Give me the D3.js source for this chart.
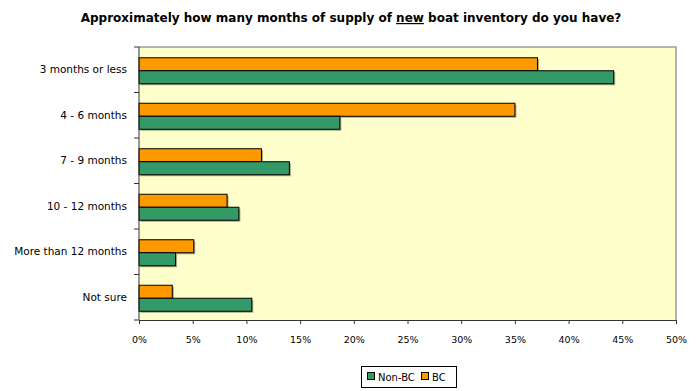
<!DOCTYPE html>
<html>
<head>
<meta charset="utf-8">
<script src="https://cdn.jsdelivr.net/npm/d3@7"></script>
<style>
  html, body { margin: 0; padding: 0; background: #ffffff; }
  svg { display: block; }
  text { font-family: "DejaVu Sans", Verdana, sans-serif; fill: #000; }
</style>
</head>
<body>
<svg id="chart" width="698" height="391"></svg>
<script>
// Survey answers and shares (%) per group
const categories = ["3 months or less", "4 - 6 months", "7 - 9 months", "10 - 12 months", "More than 12 months", "Not sure"];
const seriesNames = ["BC", "Non-BC"];
const bcValues = [37.1, 35.0, 11.4, 8.2, 5.1, 3.1];
const nonBcValues = [44.2, 18.7, 14.0, 9.3, 3.4, 10.5];
const xTicks = [0, 5, 10, 15, 20, 25, 30, 35, 40, 45, 50];
const legendOrder = ["Non-BC", "BC"];

const colors = { "BC": "#FF9900", "Non-BC": "#339966" };
const valuesBySeries = { "BC": bcValues, "Non-BC": nonBcValues };

const svg = d3.select("#chart");
const plot = { left: 139, right: 676, top: 47, bottom: 320 };

const x = d3.scaleLinear().domain([0, 50]).range([plot.left, plot.right]);
const y = d3.scaleBand().domain(categories).range([plot.top, plot.bottom]).paddingInner(0).paddingOuter(0);
const inner = d3.scaleBand().domain(seriesNames).range([0, y.bandwidth()]).paddingOuter(0.75).paddingInner(0);

// Title with the underlined word
const title = svg.append("text")
  .attr("x", 351).attr("y", 22)
  .attr("text-anchor", "middle")
  .style("font-size", "12px").style("font-weight", "bold");
title.append("tspan").text("Approximately how many months of supply of ");
title.append("tspan").attr("text-decoration", "underline").text("new");
title.append("tspan").text(" boat inventory do you have?");

// Plot background
svg.append("rect")
  .attr("x", plot.left).attr("y", plot.top)
  .attr("width", plot.right - plot.left).attr("height", plot.bottom - plot.top)
  .attr("fill", "#FFFFCC").attr("stroke", "none");
svg.append("path")
  .attr("d", `M${plot.left},${plot.top}H${plot.right}V${plot.bottom}`)
  .attr("fill", "none").attr("stroke", "#999").attr("stroke-width", 1.5);

// Bars
const rows = [];
categories.forEach((c, i) => {
  seriesNames.forEach(s => rows.push({ cat: c, series: s, value: valuesBySeries[s][i] }));
});

const barG = svg.append("g");
barG.selectAll("rect.shadow").data(rows).join("rect")
  .attr("class", "shadow")
  .attr("x", x(0) + 1.5)
  .attr("y", d => y(d.cat) + inner(d.series) + 1 + 1.5)
  .attr("width", d => x(d.value) - x(0))
  .attr("height", inner.bandwidth())
  .attr("fill", "#000").attr("opacity", 0.35);
barG.selectAll("rect.bar").data(rows).join("rect")
  .attr("class", "bar")
  .attr("x", x(0))
  .attr("y", d => y(d.cat) + inner(d.series) + 1)
  .attr("width", d => x(d.value) - x(0))
  .attr("height", inner.bandwidth())
  .attr("fill", d => colors[d.series])
  .attr("stroke", "#000").attr("stroke-width", 1);

// X axis
const xAxis = svg.append("g")
  .attr("transform", `translate(0,${plot.bottom})`)
  .call(d3.axisBottom(x).tickValues(xTicks).tickFormat(d => d + "%").tickSize(4).tickSizeOuter(0).tickPadding(12));
xAxis.select(".domain").attr("stroke", "#333");
xAxis.selectAll(".tick line").attr("stroke", "#333");
xAxis.selectAll("text").style("font-size", "9.5px").style("font-family", "'DejaVu Sans', sans-serif");

// Y axis: line plus ticks at band boundaries
svg.append("line")
  .attr("x1", plot.left).attr("x2", plot.left)
  .attr("y1", plot.top).attr("y2", plot.bottom)
  .attr("stroke", "#333");
const boundaries = categories.map(c => y(c)).concat([plot.bottom]);
svg.append("g").selectAll("line").data(boundaries).join("line")
  .attr("x1", plot.left - 5).attr("x2", plot.left)
  .attr("y1", d => d).attr("y2", d => d)
  .attr("stroke", "#333");
svg.append("g").selectAll("text").data(categories).join("text")
  .attr("x", 127)
  .attr("y", d => y(d) + y.bandwidth() / 2)
  .attr("dy", "0.35em")
  .attr("text-anchor", "end")
  .style("font-size", "10.5px")
  .text(d => d);

// Legend
const legend = svg.append("g");
legend.append("rect")
  .attr("x", 361.5).attr("y", 366.5).attr("width", 95).attr("height", 21)
  .attr("fill", "#fff").attr("stroke", "#000");
const legendItems = [
  { name: legendOrder[0], sx: 367, tx: 378 },
  { name: legendOrder[1], sx: 421, tx: 432 }
];
legendItems.forEach(it => {
  legend.append("rect")
    .attr("x", it.sx + 0.5).attr("y", 372.5).attr("width", 7).attr("height", 7)
    .attr("fill", colors[it.name]).attr("stroke", "#000");
  legend.append("text")
    .attr("x", it.tx).attr("y", 377).attr("dy", "0.35em")
    .style("font-size", "10px").text(it.name);
});
</script>
</body>
</html>
